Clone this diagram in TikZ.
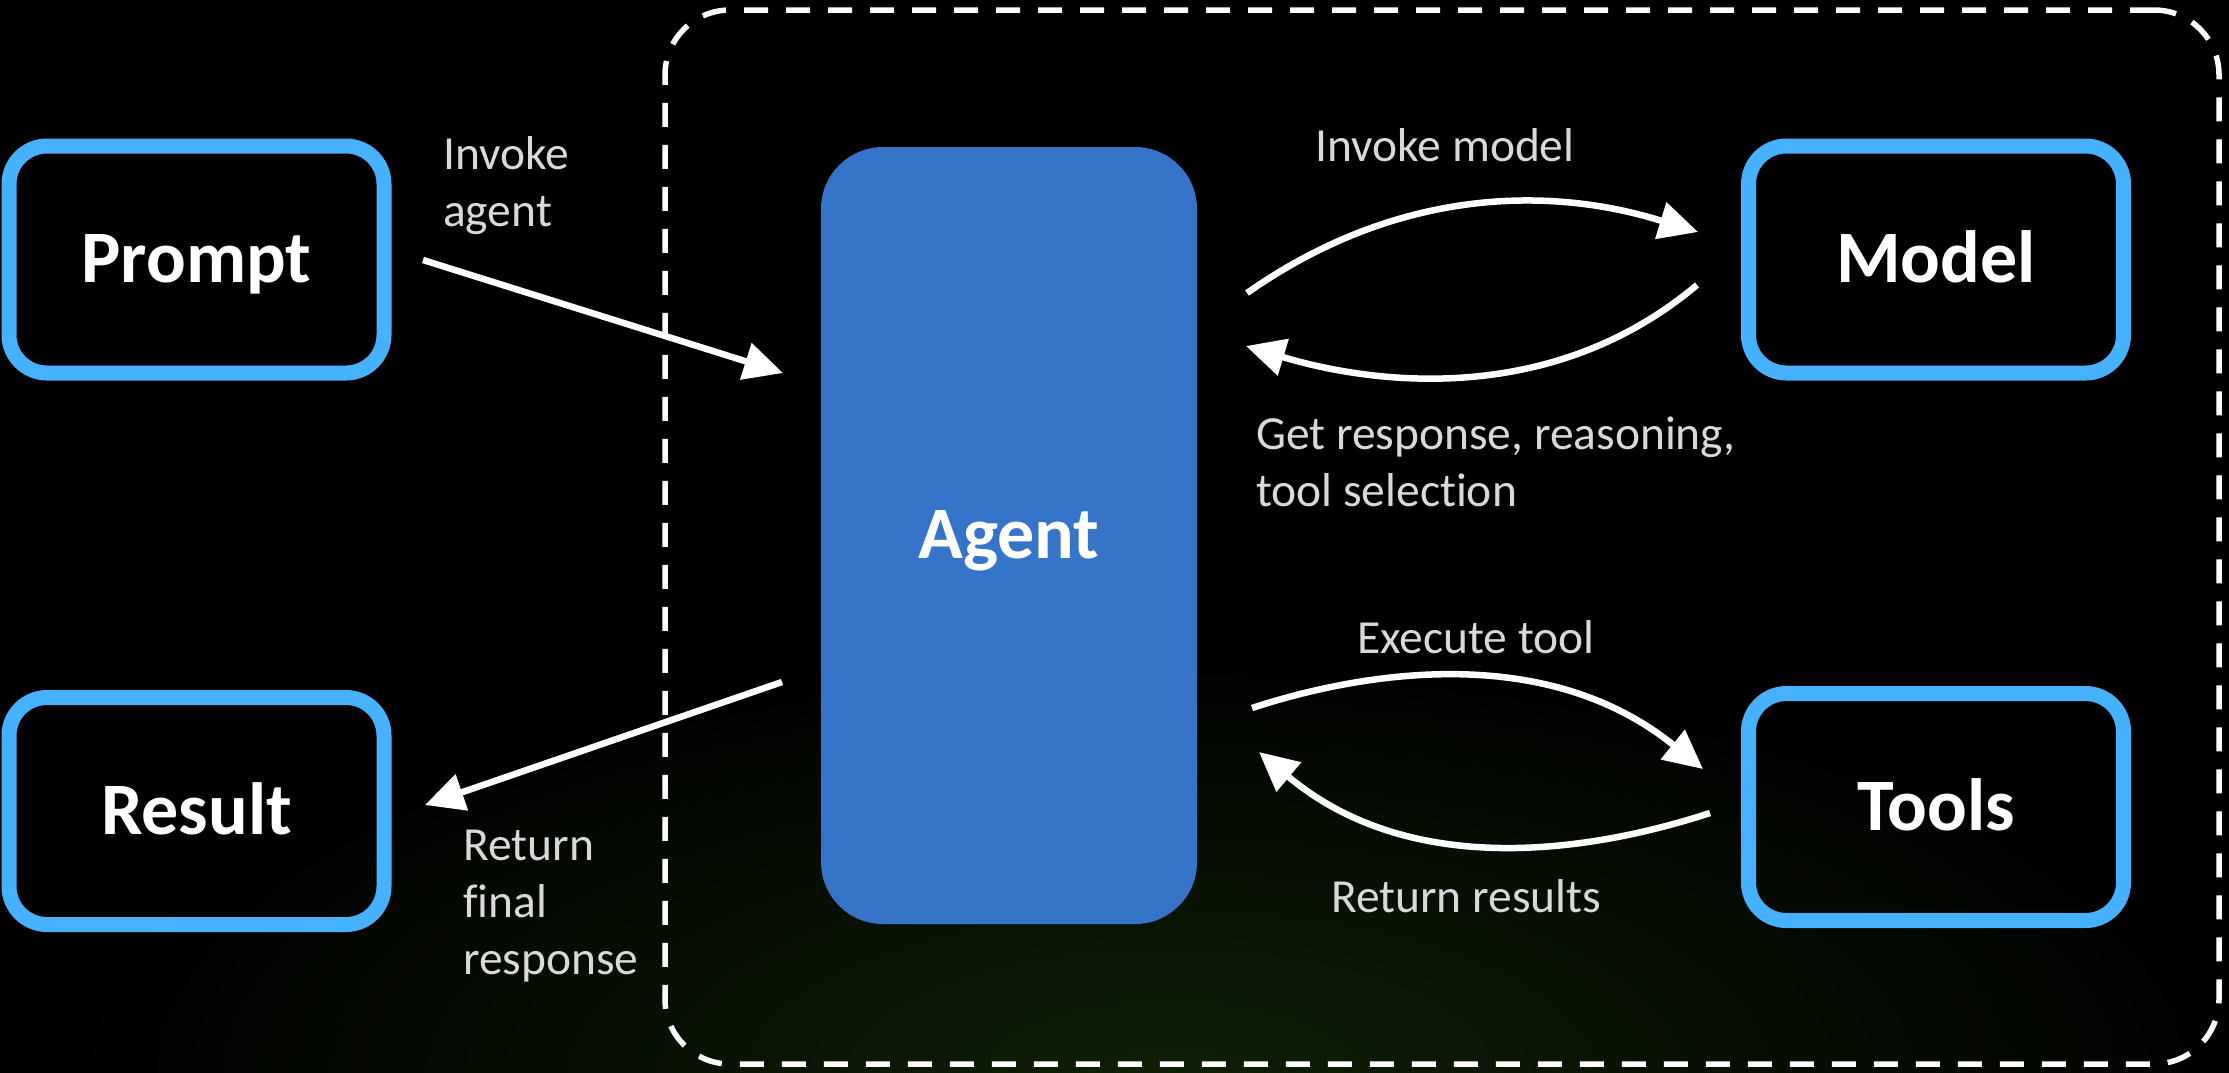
\documentclass[tikz,border=0pt]{standalone}
\usepackage{fontspec}
\setmainfont{Carlito}[Ligatures=NoCommon]
\usetikzlibrary{arrows.meta,calc}
\definecolor{boxblue}{RGB}{69,177,255}
\definecolor{agentblue}{RGB}{54,116,202}
\definecolor{labelgray}{RGB}{217,217,217}
\definecolor{glow}{RGB}{14,32,5}
\begin{document}
\begin{tikzpicture}[x=1pt,y=-1pt,
  box/.style={draw=boxblue, line width=15pt, rounded corners=38pt,
    minimum width=375pt, minimum height=227pt, inner sep=0pt, outer sep=0pt,
    font=\bfseries\fontsize{74}{88}\selectfont, text=white,
    text height=46.5pt, text depth=0pt},
  agentbox/.style={fill=agentblue, rounded corners=62pt,
    minimum width=376pt, minimum height=777pt, inner sep=0pt, outer sep=0pt,
    font=\bfseries\fontsize{74}{88}\selectfont, text=white,
    text height=46.5pt, text depth=0pt},
  frame/.style={draw=white, line width=5.5pt, dash pattern=on 24pt off 18pt,
    rounded corners=65pt, minimum width=1554pt, minimum height=1054pt,
    inner sep=0pt, outer sep=0pt},
  lbl/.style={font=\fontsize{47.5}{57}\selectfont, text=labelgray, inner sep=0pt},
  arr/.style={draw=white, line width=6.5pt, -{Triangle[length=39pt,width=37pt]}}
]
\useasboundingbox (0,0) rectangle (2229,1072);
\fill[black] (-30,-30) rectangle (2259,1102);
\shade[inner color=glow, outer color=black] (1170,1080) ellipse [x radius=1100pt, y radius=440pt];

\node[frame] (loop) at (1442,537) {};

\node[box] (prompt) at (196.5,259.5) {Prompt};
\node[box] (result) at (196.5,811) {Result};
\node[box] (model) at (1936,259.5) {Model};
\node[box] (tools) at (1936,807) {Tools};
\node[agentbox] (agent) at (1009,535.5) {Agent};

\node[lbl, anchor=base west, align=left] (linv) at (443,226) {Invoke\\agent};
\node[lbl, anchor=base west, align=left] (lret) at (463,974) {Return\\final\\response};
\node[lbl, anchor=base] (lmod) at (1445,161) {Invoke model};
\node[lbl, anchor=base west, align=left] (lget) at (1256,506) {Get response, reasoning,\\tool selection};
\node[lbl, anchor=base] (lexe) at (1476,653) {Execute tool};
\node[lbl, anchor=base] (lres) at (1466,912) {Return results};

\draw[arr] ($(prompt.east)+(39,0.5)$) -- ($(agent.west)+(-38,-162.5)$);
\draw[arr] ($(agent.west)+(-39,146.5)$) -- ($(result.east)+(41,-6)$);
\draw[arr] ($(agent.east)+(50,-242.5)$) .. controls +(196.6,-137.8) and +(-76.5,-23.4) .. ($(model.west)+(-50.5,-27.5)$);
\draw[arr] ($(model.west)+(-51.5,25.5)$) .. controls +(-168.5,141.5) and +(76.5,23) .. ($(agent.east)+(49,-189.5)$);
\draw[arr] ($(agent.east)+(55,172.5)$) .. controls +(76,-25) and +(-171,-138.4) .. ($(tools.west)+(-45.5,-38)$);
\draw[arr] ($(tools.west)+(-38.5,6)$) .. controls +(-76,24.7) and +(168.5,141.5) .. ($(agent.east)+(62,216.5)$);
\end{tikzpicture}
\end{document}
